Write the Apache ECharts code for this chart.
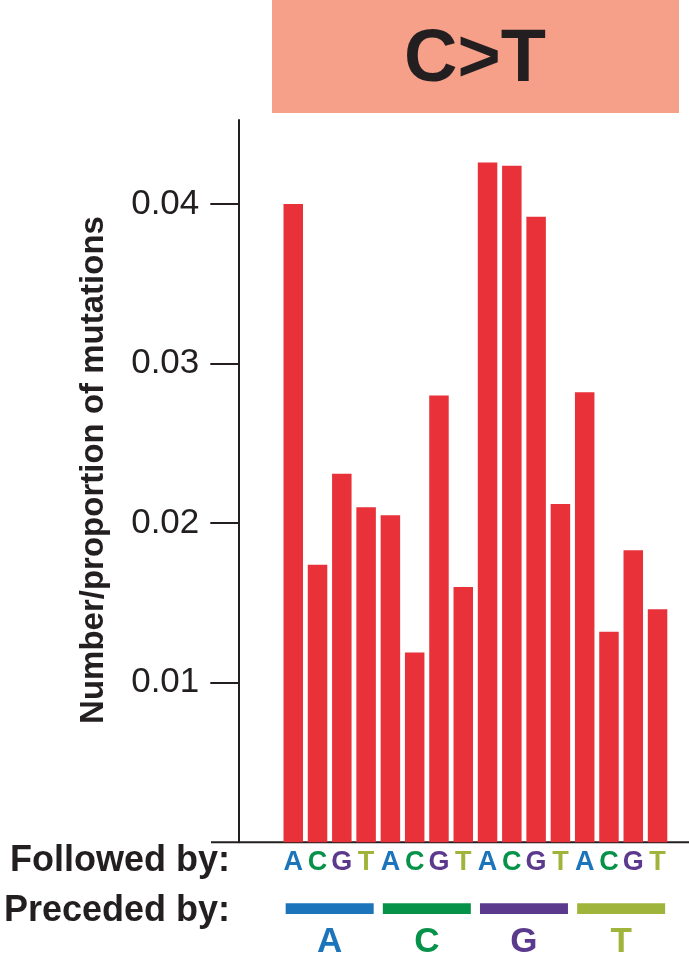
<!DOCTYPE html>
<html>
<head>
<meta charset="utf-8">
<title>C>T</title>
<script src="https://cdn.jsdelivr.net/npm/echarts@6/dist/echarts.min.js"></script>
<style>
  html, body { margin: 0; padding: 0; background: #fff; }
  #chart { width: 689px; height: 969px; }
</style>
</head>
<body>
<div id="chart"></div>
<script>
// substitution C>T, 5' base (preceded by) x 3' base (followed by)
const precededBy = ['A', 'C', 'G', 'T']
const followedBy = ['A', 'C', 'G', 'T']
const contexts = precededBy.flatMap(p => followedBy.map(f => p + '[C>T]' + f))
const ctValues = [
  0.0400, 0.0174, 0.0231, 0.0210,
  0.0205, 0.0119, 0.0280, 0.0160,
  0.0426, 0.0424, 0.0392, 0.0212,
  0.0282, 0.0132, 0.0183, 0.0146
]
const yTicks = [0.01, 0.02, 0.03, 0.04]
const groupBar = [1, 1, 1, 1]

const baseColor = { A: '#1C74BA', C: '#07924A', G: '#5B3A8E', T: '#9FB43B' }
const ink = '#231F20'
const font = "'Liberation Sans', Arial, sans-serif"

// rich styles for coloured base letters
function baseRich(size) {
  const r = {}
  Object.keys(baseColor).forEach(b => {
    r[b] = { color: baseColor[b], fontWeight: 'bold', fontFamily: font, fontSize: size }
  })
  return r
}

const chart = echarts.init(document.getElementById('chart'))

chart.setOption({
  animation: false,
  grid: [
    { left: 281.1, width: 388.6, top: 120, bottom: 126.7 },
    { left: 281.1, width: 388.6, top: 903.3, height: 10.7 }
  ],
  xAxis: [{
    gridIndex: 0,
    type: 'category',
    data: contexts,
    axisLine: { show: false },
    axisTick: { show: false },
    axisLabel: {
      interval: 0,
      hideOverlap: false,
      margin: 7,
      fontSize: 27,
      rich: baseRich(27),
      formatter: v => {
        const f = v.slice(-1)
        return '{' + f + '|' + f + '}'
      }
    }
  }, {
    gridIndex: 1,
    type: 'category',
    data: precededBy,
    axisLine: { show: false },
    axisTick: { show: false },
    axisLabel: {
      interval: 0,
      hideOverlap: false,
      margin: 11,
      fontSize: 35,
      rich: baseRich(35),
      formatter: v => '{' + v + '|' + v + '}'
    }
  }],
  yAxis: [{
    gridIndex: 0,
    type: 'value',
    min: 0,
    max: 0.04527,
    offset: 42.8,
    splitLine: { show: false },
    axisLine: { show: true, lineStyle: { color: ink, width: 2 } },
    axisTick: { show: true, length: 28, lineStyle: { color: ink, width: 2 }, customValues: yTicks },
    axisLabel: {
      margin: 39,
      color: ink,
      fontSize: 35,
      fontFamily: font,
      customValues: yTicks,
      formatter: v => v.toFixed(2)
    }
  }, {
    gridIndex: 1,
    type: 'value',
    min: 0,
    max: 1,
    show: false
  }],
  series: [{
    type: 'bar',
    xAxisIndex: 0,
    yAxisIndex: 0,
    data: ctValues,
    barWidth: 19.5,
    itemStyle: { color: '#E9313A' }
  }, {
    type: 'bar',
    xAxisIndex: 1,
    yAxisIndex: 1,
    data: groupBar.map((v, i) => ({ value: v, itemStyle: { color: baseColor[precededBy[i]] } })),
    barWidth: 88
  }],
  graphic: [
    { type: 'rect', shape: { x: 272, y: 0, width: 407, height: 113 }, style: { fill: '#F69F89' } },
    { type: 'text', x: 475, y: 61, style: { text: 'C>T', fill: ink, font: 'bold 74px ' + font, textAlign: 'center', textVerticalAlign: 'middle' } },
    { type: 'line', shape: { x1: 211, y1: 842.3, x2: 689, y2: 842.3 }, style: { stroke: ink, lineWidth: 2 } },
    { type: 'text', x: 93.5, y: 470, rotation: Math.PI / 2, style: { text: 'Number/proportion of mutations', fill: ink, font: 'bold 33px ' + font, textAlign: 'center', textVerticalAlign: 'middle' } },
    { type: 'text', x: 230, y: 861, style: { text: 'Followed by:', fill: ink, font: 'bold 36px ' + font, textAlign: 'right', textVerticalAlign: 'middle' } },
    { type: 'text', x: 230, y: 911, style: { text: 'Preceded by:', fill: ink, font: 'bold 36px ' + font, textAlign: 'right', textVerticalAlign: 'middle' } }
  ]
})
</script>
</body>
</html>
